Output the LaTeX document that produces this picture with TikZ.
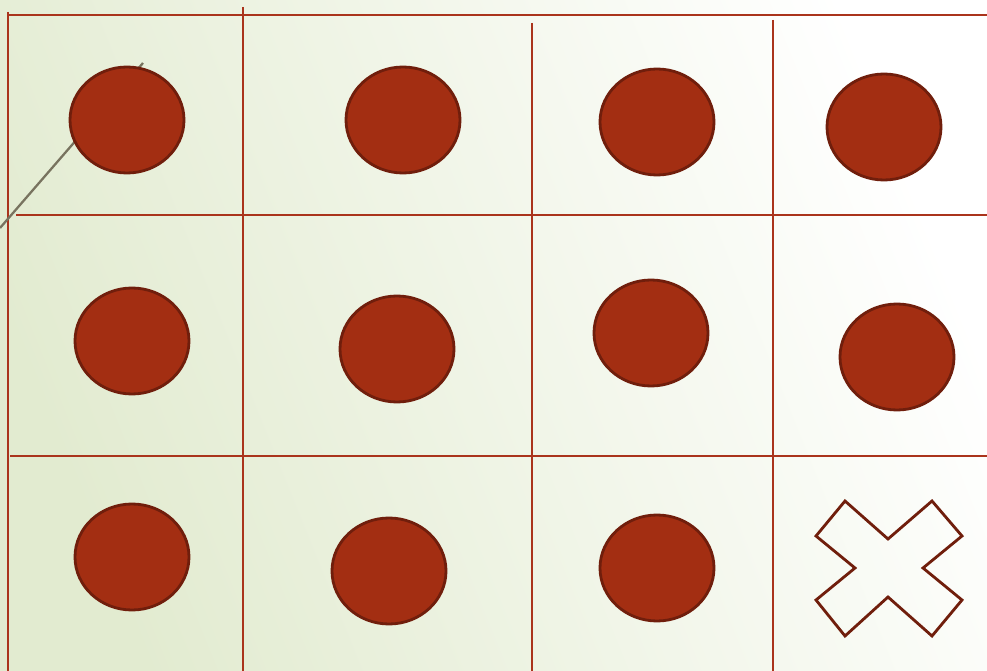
\documentclass[tikz,border=0pt]{standalone}
\usetikzlibrary{shapes.geometric}
\definecolor{rust}{RGB}{163,46,18}
\definecolor{rustdark}{RGB}{112,30,12}
\definecolor{gridred}{RGB}{170,52,28}
\definecolor{sage}{RGB}{226,235,208}
\definecolor{pointer}{RGB}{120,115,95}
\tikzset{
  dot/.style={ellipse,draw=rustdark,fill=rust,line width=1.6pt,
    minimum width=22.8mm,minimum height=21.2mm,inner sep=0pt},
  gridline/.style={draw=gridred,line width=1.1pt},
  crossmark/.style={draw=rustdark,line width=1.6pt,line join=miter},
  pointerline/.style={draw=pointer,line width=1.3pt},
}
\begin{document}
\begin{tikzpicture}[x=0.2mm,y=-0.2mm]
  \useasboundingbox (0,0) rectangle (987,671);
  % background wash
  \shade[top color=white,bottom color=sage,shading angle=-68] (0,0) rectangle (987,671);
  % grid
  \draw[gridline] (8,15) -- (987,15);
  \draw[gridline] (16,215) -- (987,215);
  \draw[gridline] (10,456) -- (987,456);
  \draw[gridline] (8,12) -- (8,671);
  \draw[gridline] (243,7) -- (243,671);
  \draw[gridline] (532,23) -- (532,671);
  \draw[gridline] (773,20) -- (773,671);
  % pointer behind the first dot
  \coordinate (ptrstart) at (0,228);
  \coordinate (ptrend) at (143,63);
  \draw[pointerline] (ptrstart) -- (ptrend);
  % dots
  \foreach \n/\px/\py in {a1/127/120,a2/403/120,a3/657/122,a4/884/127,
      b1/132/341,b2/397/349,b3/651/333,b4/897/357,
      c1/132/557,c2/389/571,c3/657/568}
    \node[dot] (\n) at (\px,\py) {};
  % empty slot
  \draw[crossmark] (845,501) -- (888,539) -- (932,501) -- (962,536) -- (923,568)
    -- (962,600) -- (932,636) -- (888,597) -- (845,636) -- (816,600)
    -- (855,568) -- (816,536) -- cycle;
\end{tikzpicture}
\end{document}
